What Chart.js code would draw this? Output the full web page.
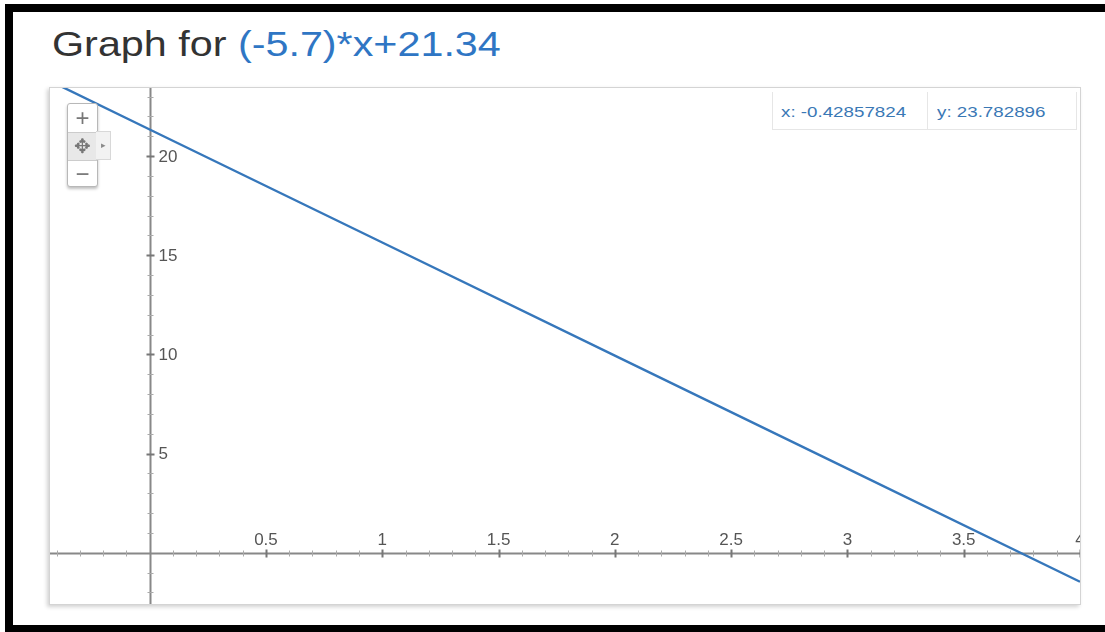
<!DOCTYPE html>
<html>
<head>
<meta charset="utf-8">
<script src="https://cdn.jsdelivr.net/npm/chart.js@4.4.1/dist/chart.umd.min.js"></script>
<style>
  html, body { margin: 0; padding: 0; background: #fff; }
  body { width: 1105px; height: 632px; position: relative; overflow: hidden; font-family: "Liberation Sans", Arial, sans-serif; }
  .frameTop { position: absolute; left: 5px; top: 4px; width: 1100px; height: 8px; background: #000; }
  .frameLeft { position: absolute; left: 5px; top: 4px; width: 8px; height: 628px; background: #000; }
  .frameBottom { position: absolute; left: 5px; top: 625px; width: 1100px; height: 7px; background: #000; }
  h1 { position: absolute; left: 52px; top: 24px; margin: 0; font-weight: normal; font-size: 35px; color: #333; white-space: nowrap; transform: scaleX(1.18); transform-origin: 0 0; }
  h1 span { color: #2f76c4; }
  .plot { position: absolute; left: 49px; top: 87px; width: 1030px; height: 516px; border: 1px solid #d4d4d4; box-shadow: -2px 2px 4px rgba(0,0,0,0.18); background: #fff; }
  .plot canvas { position: absolute; left: 0; top: 0; }
  .readout { position: absolute; left: 722px; top: 4px; width: 303px; height: 37px; border: 1px solid #e6e6e6; border-top: none; background: #fff; font-size: 15px; color: #3a78b5; }
  .readout div { position: absolute; top: 11px; white-space: nowrap; transform: scaleX(1.25); transform-origin: 0 0; }
  .readout .sep { position: absolute; left: 154px; top: 0; width: 1px; height: 37px; background: #e6e6e6; transform: none; }
  .zoom { position: absolute; left: 17px; top: 15px; width: 29px; height: 82px; border: 1px solid #b8b8b8; border-radius: 3px; background: #fff; box-shadow: 0 2px 3px rgba(0,0,0,0.25); font-size: 24px; color: #777; text-align: center; }
  .zoom .b { position: absolute; left: 0; width: 29px; line-height: 27px; height: 27px; }
  .zoom .mid { top: 28px; background: #e8e8e8; border-top: 1px solid #ccc; border-bottom: 1px solid #ccc; font-size: 20px; }
  .tab { position: absolute; left: 46px; top: 43px; width: 14px; height: 27px; background: #f2f2f2; border: 1px solid #d8d8d8; border-left: none; font-size: 9px; color: #888; line-height: 27px; text-align: center; }
</style>
</head>
<body>
<div class="frameTop"></div>
<div class="frameLeft"></div>
<div class="frameBottom"></div>
<h1>Graph for <span>(-5.7)*x+21.34</span></h1>
<div class="plot">
  <canvas id="graph" width="1030" height="516"></canvas>
  <div class="zoom">
    <div class="b" style="top:0">+</div>
    <div class="b mid">&#10021;</div>
    <div class="b" style="top:56px">&minus;</div>
  </div>
  <div class="tab">&#9656;</div>
  <div class="readout">
    <div style="left:8px">x: -0.42857824</div>
    <div class="sep"></div>
    <div style="left:164px">y: 23.782896</div>
  </div>
</div>
<script>
// points on the line
const xValues = [-0.42857824, 0, 1, 2, 3, 4];
const yValues = [23.782896, 21.34, 15.64, 9.94, 4.24, -1.46];

// axis ticks
const xTickValues = [0.5, 1, 1.5, 2, 2.5, 3, 3.5, 4];
const xTickLabels = ['0.5', '1', '1.5', '2', '2.5', '3', '3.5', '4'];
const yTickValues = [5, 10, 15, 20];
const yTickLabels = ['5', '10', '15', '20'];

const xRange = [-0.42857824, 4];
const yRange = [-2.58, 23.43];

// draws the cross axes at x=0 / y=0 with their ticks, like the google graph
const crossAxes = {
    id: 'crossAxes',
    beforeDatasetsDraw(chart) {
        const ctx = chart.ctx;
        const xs = chart.scales.x;
        const ys = chart.scales.y;
        const area = chart.chartArea;
        const x0 = Math.round(xs.getPixelForValue(0)) + 0.5;
        const y0 = Math.round(ys.getPixelForValue(0)) + 0.5;

        ctx.save();
        ctx.strokeStyle = '#888';
        ctx.lineWidth = 2;
        ctx.beginPath();
        ctx.moveTo(area.left, y0);
        ctx.lineTo(area.right, y0);
        ctx.moveTo(x0, area.top);
        ctx.lineTo(x0, area.bottom);
        ctx.stroke();

        // minor ticks
        ctx.lineWidth = 1;
        ctx.strokeStyle = '#aaaaaa';
        ctx.beginPath();
        for (let i = -4; i <= 40; i++) {
            if (i % 5 === 0) continue;
            const px = Math.round(xs.getPixelForValue(i / 10)) + 0.5;
            ctx.moveTo(px, y0 - 3);
            ctx.lineTo(px, y0 + 3);
        }
        for (let j = -2; j <= 23; j++) {
            if (j % 5 === 0) continue;
            const py = Math.round(ys.getPixelForValue(j)) + 0.5;
            ctx.moveTo(x0 - 3, py);
            ctx.lineTo(x0 + 3, py);
        }
        ctx.stroke();

        // major ticks
        ctx.lineWidth = 2;
        ctx.strokeStyle = '#777';
        ctx.beginPath();
        xTickValues.forEach((v) => {
            const px = Math.round(xs.getPixelForValue(v)) + 0.5;
            ctx.moveTo(px, y0 - 4);
            ctx.lineTo(px, y0 + 4);
        });
        yTickValues.forEach((v) => {
            const py = Math.round(ys.getPixelForValue(v)) + 0.5;
            ctx.moveTo(x0 - 4, py);
            ctx.lineTo(x0 + 4, py);
        });
        ctx.stroke();

        // labels
        ctx.fillStyle = '#555';
        ctx.font = '17px "Liberation Sans", Arial, sans-serif';
        ctx.textAlign = 'center';
        ctx.textBaseline = 'alphabetic';
        xTickValues.forEach((v, i) => {
            ctx.fillText(xTickLabels[i], xs.getPixelForValue(v), y0 - 9);
        });
        ctx.textAlign = 'left';
        ctx.textBaseline = 'middle';
        yTickValues.forEach((v, i) => {
            ctx.fillText(yTickLabels[i], x0 + 8, ys.getPixelForValue(v) + 1);
        });
        ctx.restore();
    }
};

new Chart(document.getElementById('graph').getContext('2d'), {
    type: 'scatter',
    data: {
        datasets: [{
            data: xValues.map((x, i) => ({ x: x, y: yValues[i] })),
            showLine: true,
            borderColor: '#3677bb',
            borderWidth: 2.4,
            pointRadius: 0,
            fill: false,
        }],
    },
    options: {
        responsive: false,
        animation: false,
        layout: { padding: 0 },
        plugins: { legend: { display: false }, tooltip: { enabled: false } },
        scales: {
            x: { type: 'linear', min: xRange[0], max: xRange[1], display: false },
            y: { type: 'linear', min: yRange[0], max: yRange[1], display: false },
        },
    },
    plugins: [crossAxes],
});
</script>
</body>
</html>
